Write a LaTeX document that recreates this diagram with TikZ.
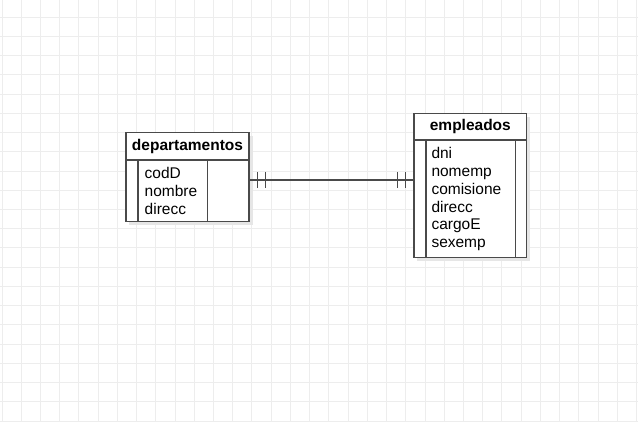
\documentclass[tikz,border=0pt]{standalone}
\usepackage{fontspec}
\setmainfont{Liberation Sans}
\definecolor{gridc}{HTML}{EDEDED}
\definecolor{edgec}{HTML}{4A4A4A}
\definecolor{shadowc}{HTML}{E6E6E6}
\begin{document}
\begin{tikzpicture}[x=1pt,y=-1pt,
  gridline/.style={draw=gridc,line width=1pt},
  tbl/.style={draw=edgec,line width=1.2pt,fill=white,inner sep=0pt,
    drop shadow/.style={}},
  tblshadow/.style={fill=shadowc,draw=none},
  sep/.style={draw=edgec,line width=1.2pt},
  hdr/.style={font=\fontsize{15.5}{17.7}\selectfont\bfseries,inner sep=0pt},
  fields/.style={font=\fontsize{15.5}{17.7}\selectfont,align=left,inner sep=0pt,anchor=west},
  rel/.style={draw=edgec,line width=1.2pt},
]
\useasboundingbox (0,0) rectangle (638,421);
\fill[white] (0,0) rectangle (638,421);
% grid
\foreach \i in {0,...,33} {\draw[gridline] ({2+19.23*\i},0) -- ({2+19.23*\i},421);}
\foreach \j in {0,...,21} {\draw[gridline] (0,{17.2+19.23*\j}) -- (638,{17.2+19.23*\j});}

% departamentos
\fill[tblshadow] (129,136) rectangle (253,225);
\node[tbl,minimum width=123,minimum height=89] (dep) at (187.5,177.2) {};
\draw[sep] (126,160) -- (249,160);
\draw[sep] (138,160) -- (138,221.7);
\draw[sep] (207.7,160) -- (207.7,221.7);
\node[hdr] (deph) at (187.5,146.3) {departamentos};
\node[fields] (depf) at (144.5,191) {codD\\nombre\\direcc};

% empleados
\fill[tblshadow] (417,116.5) rectangle (530,260.5);
\node[tbl,minimum width=112.7,minimum height=144] (emp) at (470.35,185.3) {};
\draw[sep] (414,140) -- (526.7,140);
\draw[sep] (426,140) -- (426,257.3);
\draw[sep] (515.7,140) -- (515.7,257.3);
\node[hdr] (emph) at (470.35,126.7) {empleados};
\node[fields] (empf) at (431.3,199.2) {dni\\nomemp\\comisione\\direcc\\cargoE\\sexemp};

% relationship
\coordinate (a) at (dep.east |- 0,180);
\coordinate (b) at (emp.west |- 0,180);
\draw[rel] (a) -- (b);
\draw[rel] ([xshift=8]a) ++(0,-8) -- ++(0,16);
\draw[rel] ([xshift=16]a) ++(0,-8) -- ++(0,16);
\draw[rel] ([xshift=-8]b) ++(0,-8) -- ++(0,16);
\draw[rel] ([xshift=-16]b) ++(0,-8) -- ++(0,16);
\end{tikzpicture}
\end{document}
